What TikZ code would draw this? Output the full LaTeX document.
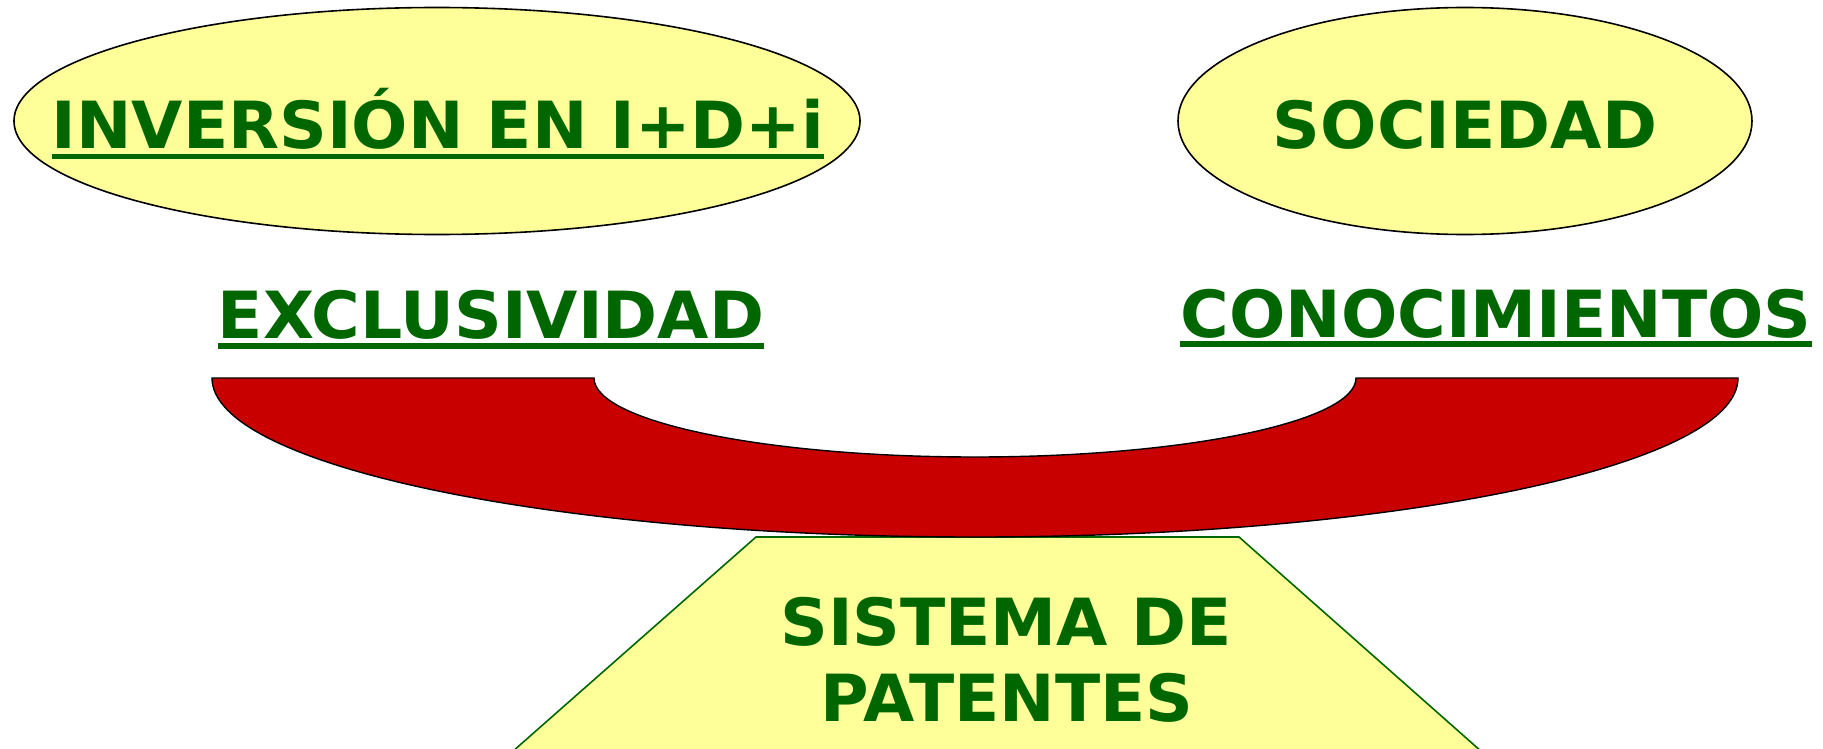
\documentclass[tikz,border=0pt]{standalone}
\usepackage{fontspec}
\setmainfont{DejaVu Sans}[FakeStretch=1.02]
\usepackage{xcolor}
\usetikzlibrary{shapes.geometric, positioning}

\definecolor{leafgreen}{RGB}{0,102,0}
\definecolor{paleyellow}{RGB}{255,255,153}
\definecolor{bowlred}{RGB}{200,0,0}

\begin{document}
\begin{tikzpicture}[
    x=1pt, y=-1pt,
    bubble/.style={ellipse, draw=black, line width=1.6pt, fill=paleyellow, inner sep=0pt},
    word/.style={anchor=base, inner sep=0pt, text=leafgreen, font=\fontsize{65}{72}\selectfont\bfseries},
    uline/.style={leafgreen, line width=5.5pt},
    bowl/.style={draw=black, line width=1.4pt, fill=bowlred},
    base/.style={draw=leafgreen, line width=1.6pt, fill=paleyellow}
]
\useasboundingbox (0,0) rectangle (1823,749);

% Top: the two ellipses
\node[bubble, minimum width=846pt, minimum height=227pt] (invest) at (437,121) {};
\node[bubble, minimum width=574pt, minimum height=227pt] (society) at (1465,121) {};
\node[word] (investtxt) at (438,149) {INVERSIÓN EN I+D+i};
\node[word] (societytxt) at (1465,149) {SOCIEDAD};
\draw[uline] ([yshift=-7.5pt]investtxt.base west) -- ([yshift=-7.5pt]investtxt.base east);

% Middle: the two words on the scale
\node[word] (excl) at (491,338) {EXCLUSIVIDAD};
\node[word] (know) at (1496,337) {CONOCIMIENTOS};
\draw[uline] ([yshift=-8pt]excl.base west) -- ([yshift=-8pt]excl.base east);
\draw[uline] ([yshift=-7pt]know.base west) -- ([yshift=-7pt]know.base east);

% Bottom: the stand
\draw[base] (756,537) coordinate (stand) -- (1239,537) -- (1482,752) -- (512,752) -- cycle;
\node[word] (system) at (1006,645) {SISTEMA DE};
\node[word] (patents) at (1007,721) {PATENTES};

% The bowl of the scale
\draw[bowl] (212,378) coordinate (rim) arc[start angle=180, end angle=360, x radius=763pt, y radius=159pt]
    -- (1356,378) arc[start angle=0, end angle=-180, x radius=381pt, y radius=79pt] -- cycle;

\end{tikzpicture}
\end{document}
